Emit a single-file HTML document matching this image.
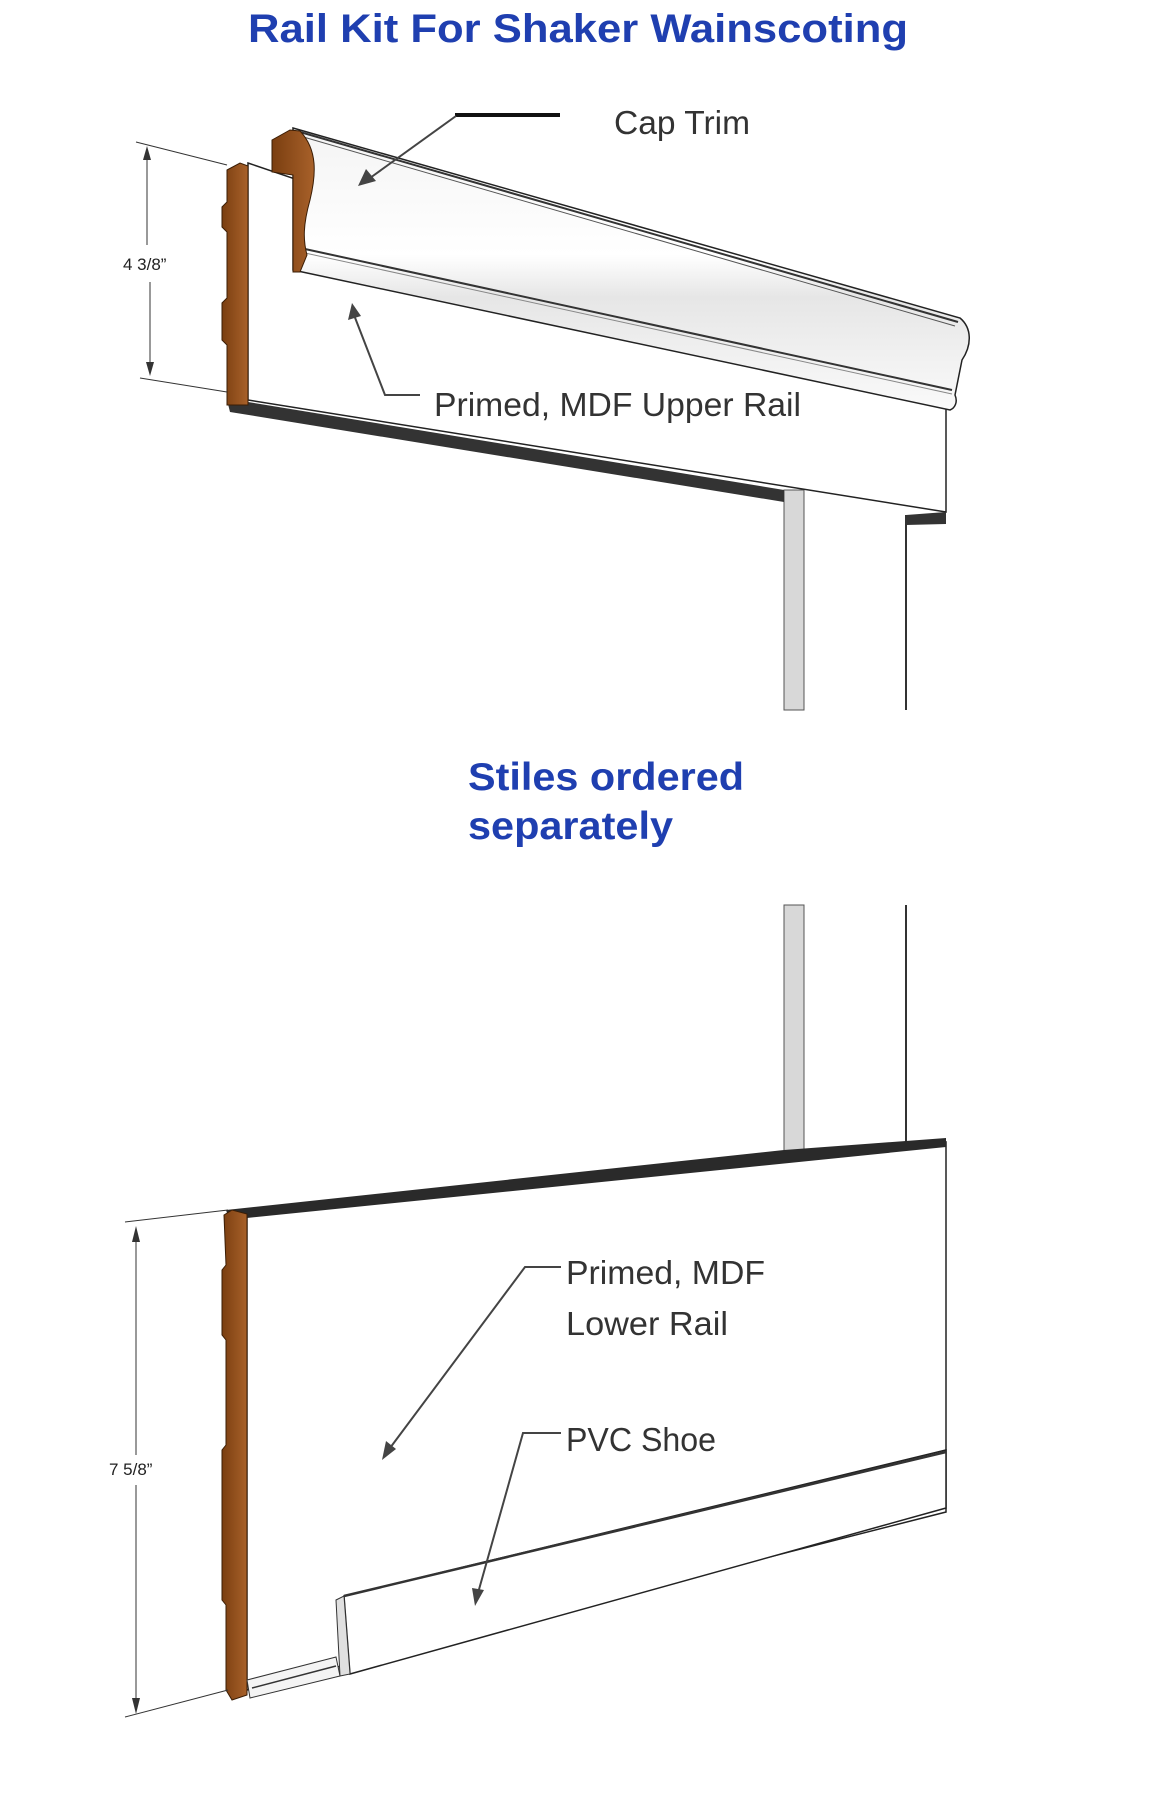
<!DOCTYPE html>
<html><head><meta charset="utf-8"><style>
html,body{margin:0;padding:0;background:#fff}
svg{display:block}
</style></head><body>
<svg width="1160" height="1796" viewBox="0 0 1160 1796" xmlns="http://www.w3.org/2000/svg">
<defs>
<linearGradient id="cap" x1="0" y1="0" x2="0" y2="1">
<stop offset="0" stop-color="#f4f4f4"/><stop offset="0.45" stop-color="#ffffff"/><stop offset="0.6" stop-color="#e6e6e6"/><stop offset="1" stop-color="#fafafa"/>
</linearGradient>
<linearGradient id="wood" x1="0" y1="0" x2="1" y2="0">
<stop offset="0" stop-color="#7a3e10"/><stop offset="1" stop-color="#a8612a"/>
</linearGradient>
</defs>
<text x="578" y="42" text-anchor="middle" font-family="Liberation Sans, sans-serif" font-weight="bold" font-size="40" fill="#1f3fb0" textLength="660" lengthAdjust="spacingAndGlyphs">Rail Kit For Shaker Wainscoting</text>

<!-- stiles -->
<rect x="784" y="490" width="20" height="220" fill="#d8d8d8" stroke="#555" stroke-width="1"/>
<line x1="906" y1="515" x2="906" y2="710" stroke="#333" stroke-width="2"/>
<rect x="784" y="905" width="20" height="255" fill="#d8d8d8" stroke="#555" stroke-width="1"/>
<line x1="906" y1="905" x2="906" y2="1150" stroke="#333" stroke-width="2"/>

<!-- upper rail -->
<polygon points="248,163 946,400 946,512 248,400" fill="#fff" stroke="#222" stroke-width="1.5"/>
<polygon points="227,400 248,402 784,490 784,502 230,412" fill="#333"/>
<polygon points="906,515 946,512 946,524 906,525" fill="#333"/>
<path d="M227,170 L240,163 L248,166 L248,405 L227,405 L227,345 L222,340 L222,303 L227,298 L227,232 L222,227 L222,207 L227,202 Z" fill="url(#wood)" stroke="#3a1d05" stroke-width="1"/>
<!-- cap trim -->
<path d="M293,128 L960,318 C972,328 972,345 962,360 L955,395 C958,402 955,408 950,410 L293,270 Z" fill="url(#cap)" stroke="#222" stroke-width="1.5"/>
<line x1="300" y1="132" x2="958" y2="322" stroke="#333" stroke-width="2"/>
<line x1="300" y1="136" x2="955" y2="326" stroke="#555" stroke-width="1"/>
<line x1="305" y1="249" x2="952" y2="390" stroke="#333" stroke-width="2"/>
<line x1="305" y1="253" x2="952" y2="394" stroke="#888" stroke-width="1"/>
<path d="M272,140 L290,130 L300,131 C318,150 316,175 310,200 C303,225 303,240 307,255 L300,272 L293,272 L293,175 L272,172 Z" fill="url(#wood)" stroke="#3a1d05" stroke-width="1"/>

<!-- upper dimension -->
<line x1="136" y1="142" x2="227" y2="165" stroke="#333" stroke-width="1"/>
<line x1="140" y1="378" x2="227" y2="392" stroke="#333" stroke-width="1"/>
<line x1="147" y1="148" x2="147" y2="245" stroke="#333" stroke-width="1"/>
<line x1="150" y1="282" x2="150" y2="374" stroke="#333" stroke-width="1"/>
<polygon points="147,146 143,160 151,160" fill="#333"/>
<polygon points="150,376 146,362 154,362" fill="#333"/>
<text x="123" y="270" font-family="Liberation Sans, sans-serif" font-size="17" fill="#222">4 3/8”</text>

<!-- cap trim label -->
<line x1="455" y1="115" x2="560" y2="115" stroke="#111" stroke-width="4"/>
<line x1="456" y1="116" x2="370" y2="178" stroke="#444" stroke-width="2"/>
<polygon points="358,186 366,169 376,181" fill="#444"/>
<text x="614" y="134" font-family="Liberation Sans, sans-serif" font-size="33" fill="#333" textLength="136" lengthAdjust="spacingAndGlyphs">Cap Trim</text>

<!-- upper rail label -->
<polyline points="354,315 385,395 420,395" fill="none" stroke="#444" stroke-width="2"/>
<polygon points="352,303 348,320 361,316" fill="#444"/>
<text x="434" y="416" font-family="Liberation Sans, sans-serif" font-size="33" fill="#333" textLength="367" lengthAdjust="spacingAndGlyphs">Primed, MDF Upper Rail</text>

<!-- stiles text -->
<text x="468" y="790" font-family="Liberation Sans, sans-serif" font-weight="bold" font-size="39" fill="#1f3fb0" textLength="276" lengthAdjust="spacingAndGlyphs">Stiles ordered</text>
<text x="468" y="839" font-family="Liberation Sans, sans-serif" font-weight="bold" font-size="39" fill="#1f3fb0" textLength="205" lengthAdjust="spacingAndGlyphs">separately</text>

<!-- lower rail -->
<polygon points="247,1214 946,1142 946,1512 247,1690" fill="#fff" stroke="#222" stroke-width="1.5"/>
<polygon points="226,1210 784,1150 946,1138 946,1147 247,1218 228,1216" fill="#2a2a2a"/>
<path d="M224,1215 L232,1210 L247,1214 L247,1695 L232,1700 L226,1690 L226,1605 L222,1600 L222,1450 L226,1445 L226,1340 L222,1335 L222,1270 L226,1265 Z" fill="url(#wood)" stroke="#3a1d05" stroke-width="1"/>
<!-- small profile -->
<polygon points="247,1680 336,1657 340,1676 250,1698" fill="#f4f4f4" stroke="#333" stroke-width="1"/>
<line x1="252" y1="1688" x2="336" y2="1666" stroke="#333" stroke-width="1.5"/>
<!-- shoe -->
<polygon points="344,1596 946,1450 946,1508 350,1674" fill="#fff" stroke="#222" stroke-width="1.5"/>
<polygon points="336,1600 344,1596 350,1674 340,1676" fill="#e0e0e0" stroke="#333" stroke-width="1"/>
<line x1="344" y1="1596" x2="946" y2="1452" stroke="#333" stroke-width="2.5"/>

<!-- lower dimension -->
<line x1="125" y1="1222" x2="228" y2="1210" stroke="#333" stroke-width="1"/>
<line x1="125" y1="1717" x2="228" y2="1690" stroke="#333" stroke-width="1"/>
<line x1="136" y1="1228" x2="136" y2="1455" stroke="#333" stroke-width="1"/>
<line x1="136" y1="1485" x2="136" y2="1712" stroke="#333" stroke-width="1"/>
<polygon points="136,1226 132,1242 140,1242" fill="#333"/>
<polygon points="136,1714 132,1698 140,1698" fill="#333"/>
<text x="109" y="1475" font-family="Liberation Sans, sans-serif" font-size="17" fill="#222">7 5/8”</text>

<!-- lower rail label -->
<polyline points="561,1267 525,1267 390,1448" fill="none" stroke="#444" stroke-width="2"/>
<polygon points="382,1460 386,1441 396,1449" fill="#444"/>
<text x="566" y="1284" font-family="Liberation Sans, sans-serif" font-size="33" fill="#333" textLength="199" lengthAdjust="spacingAndGlyphs">Primed, MDF</text>
<text x="566" y="1335" font-family="Liberation Sans, sans-serif" font-size="33" fill="#333" textLength="162" lengthAdjust="spacingAndGlyphs">Lower Rail</text>

<!-- shoe label -->
<polyline points="561,1433 523,1433 478,1593" fill="none" stroke="#444" stroke-width="2"/>
<polygon points="475,1606 472,1588 484,1590" fill="#444"/>
<text x="566" y="1451" font-family="Liberation Sans, sans-serif" font-size="33" fill="#333" textLength="150" lengthAdjust="spacingAndGlyphs">PVC Shoe</text>
</svg>
</body></html>
